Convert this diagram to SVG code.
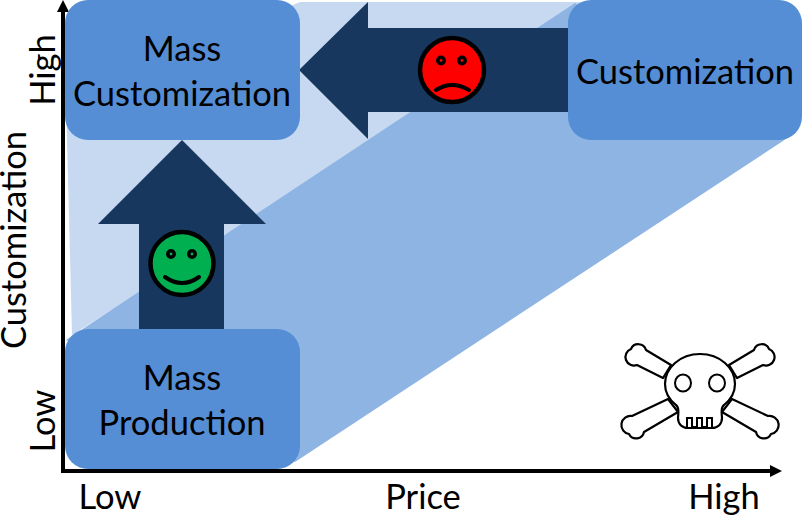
<svg xmlns="http://www.w3.org/2000/svg" width="802" height="517" viewBox="0 0 802 517">
<style>
text{font-family:Lato,"Liberation Sans",sans-serif;font-size:34.500px;fill:#000;text-anchor:middle}
.box{fill:#558ed5}
.dark{fill:#17375e}
.face{stroke:#000;stroke-width:4.500}
.eye{stroke:#000;stroke-width:3.500}
.line{fill:none;stroke:#000;stroke-width:4;stroke-linecap:round}
.axis{fill:none;stroke:#000;stroke-width:4}
.bone{fill:#fff;stroke:#000;stroke-width:2.200;stroke-linejoin:round}
</style>
<defs>
<marker id="arr" markerUnits="userSpaceOnUse" markerWidth="14" markerHeight="14" refX="4" refY="6" orient="auto"><path d="M0 0L12 6L0 12Z" fill="#000"/></marker>
<path id="bone-up" class="bone" d="M671 365L646 350A8 8 0 0 0 631 349A8 8 0 0 0 637 365L663 378Z"/>
<path id="bone-down" class="bone" d="M678 412L644 432A8 8 0 0 1 629 434A8 8 0 0 1 632 416L668 399Z"/>
</defs>
<polygon id="band-light" points="300,2 600,2 72,335 66,100" fill="#c6d9f1"/>
<polygon id="band-mid" points="575,3 792,135 295,462 66,340" fill="#8eb4e3"/>
<g id="connectors">
<polygon class="dark" points="139,330 224,330 224,224 266,224 182,140 98,224 139,224"/>
<polygon class="dark" points="570,28 368,28 368,2 299,70 368,139 368,112 570,112"/>
<path class="axis" d="M63 473V8" marker-end="url(#arr)"/>
<path class="axis" d="M61 471H774" marker-end="url(#arr)"/>
</g>
<g id="mass-customization"><rect class="box" x="65" y="0" width="235" height="140" rx="23"/><text x="182" y="61">Mass</text><text x="182" y="106">Customization</text></g>
<g id="customization"><rect class="box" x="568" y="0" width="234" height="140" rx="23"/><text x="685" y="84">Customization</text></g>
<g id="mass-production"><rect class="box" x="65" y="329" width="235" height="140" rx="23"/><text x="182" y="390">Mass</text><text x="182" y="435">Production</text></g>
<g id="sad-face"><circle class="face" cx="452" cy="70" r="32" fill="#f00"/><circle class="eye" cx="441" cy="60.500" r="3.200" fill="#f00"/><circle class="eye" cx="462" cy="60.500" r="3.200" fill="#f00"/><path class="line" d="M436 90Q452 80 469 90"/></g>
<g id="happy-face"><circle class="face" cx="182" cy="263.500" r="31.500" fill="#00b050"/><circle class="eye" cx="171" cy="254" r="3.200" fill="#00b050"/><circle class="eye" cx="192" cy="254" r="3.200" fill="#00b050"/><path class="line" d="M165 277Q182 289 199 277"/></g>
<g id="skull">
<use href="#bone-up"/><use href="#bone-up" transform="translate(1400 0) scale(-1 1)"/>
<use href="#bone-down"/><use href="#bone-down" transform="translate(1400 0) scale(-1 1)"/>
<path class="bone" d="M700 354C680 354 665 368 665 384C665 395 671 401 676 405C680 408 678 414 678 418C678 424 682 428 688 428L712 428C718 428 722 424 722 418C722 414 720 408 724 405C729 401 735 395 735 384C735 368 720 354 700 354Z"/>
<ellipse cx="683" cy="383" rx="8" ry="8.500" fill="#fff" stroke="#000" stroke-width="2"/>
<ellipse cx="717" cy="383" rx="8" ry="8.500" fill="#fff" stroke="#000" stroke-width="2"/>
<path fill="none" stroke="#000" stroke-width="2" d="M687 427V418H692V427H697V418H702V427H707V418H712V427"/>
</g>
<g id="axis-labels">
<text x="110" y="509">Low</text><text x="423" y="509">Price</text><text x="724" y="509">High</text>
<text transform="translate(55 421) rotate(-90)">Low</text>
<text transform="translate(26 240) rotate(-90)">Customization</text>
<text transform="translate(55 70) rotate(-90)">High</text>
</g>
</svg>
